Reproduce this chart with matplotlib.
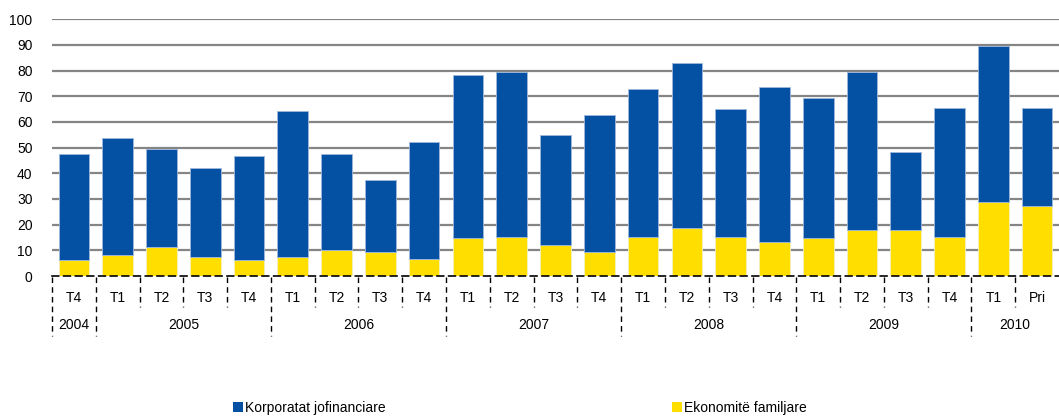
import matplotlib
matplotlib.use("Agg")
import matplotlib.pyplot as plt
import matplotlib.transforms as mtransforms
from matplotlib.patches import Patch

plt.rcParams['font.family'] = ['Liberation Sans', 'DejaVu Sans']

quarters = ["T4", "T1", "T2", "T3", "T4", "T1", "T2", "T3", "T4", "T1", "T2", "T3",
            "T4", "T1", "T2", "T3", "T4", "T1", "T2", "T3", "T4", "T1", "Pri"]
years = ["2004", "2005", "2006", "2007", "2008", "2009", "2010"]
year_counts = [1, 4, 4, 4, 4, 4, 2]
totals = [47.4, 53.6, 49.6, 42.2, 46.9, 64.2, 47.4, 37.4, 52.1, 78.2, 79.6, 54.8,
          62.9, 72.9, 82.9, 64.9, 73.5, 69.5, 79.6, 48.2, 65.5, 89.6, 65.5]
households = [6.1, 8.0, 11.4, 7.4, 6.1, 7.4, 10.1, 9.3, 6.8, 14.7, 15.3, 12.1,
              9.3, 15.3, 18.7, 15.3, 13.4, 14.7, 18.1, 18.1, 15.3, 28.8, 27.4]
corporates = [t - h for t, h in zip(totals, households)]

blue = "#0450A3"
yellow = "#FFDE00"

fig = plt.figure(figsize=(10.59, 4.18), dpi=100)
ax = fig.add_axes([52 / 1059, 1 - 276 / 418, (1059 - 52) / 1059, (276 - 19.3) / 418])

x = list(range(len(quarters)))
ax.bar(x, households, width=0.7, color=yellow, edgecolor="#f4f0c0", linewidth=0.6, zorder=3)
ax.bar(x, corporates, bottom=households, width=0.7, color=blue, edgecolor="#9fb8dc",
       linewidth=0.6, zorder=3)

ax.set_xlim(-0.5, len(quarters) - 0.5)
ax.set_ylim(0, 100)
ax.set_yticks(range(0, 101, 10))
ax.tick_params(axis='y', length=0, labelsize=10, pad=14)
ax.tick_params(axis='x', length=0, labelbottom=False)
for yv in range(10, 101, 10):
    ax.axhline(yv, color="#858585", linewidth=1.6, zorder=1)
for s in ["left", "right", "top"]:
    ax.spines[s].set_visible(False)
ax.spines["bottom"].set_linestyle((0, (4, 3)))
ax.spines["bottom"].set_linewidth(1.2)
ax.spines["bottom"].set_color("black")
ax.spines["bottom"].set_zorder(4)

trans = mtransforms.blended_transform_factory(ax.transData, ax.transAxes)
px = 1.0 / (276 - 19.3)

# quarter labels and separators
for i, q in enumerate(quarters):
    ax.text(i, -22 * px, q, transform=trans, ha="center", va="center", fontsize=10)
year_bounds = [-0.5]
acc = -0.5
for c in year_counts:
    acc += c
    year_bounds.append(acc)
for b in [i - 0.5 for i in range(len(quarters) + 1)]:
    if b in year_bounds and b < len(quarters) - 0.5:
        ax.plot([b, b], [-1 * px, -60 * px], transform=trans, color="black",
                linewidth=1.0, linestyle=(0, (4, 3)), clip_on=False)
    elif b < len(quarters) - 0.5:
        ax.plot([b, b], [-1 * px, -31 * px], transform=trans, color="black",
                linewidth=1.0, linestyle=(0, (4, 3)), clip_on=False)

# year labels
for k, yr in enumerate(years):
    center = (year_bounds[k] + year_bounds[k + 1]) / 2
    ax.text(center, -49 * px, yr, transform=trans, ha="center", va="center", fontsize=10)

handles = [Patch(facecolor=blue, edgecolor="none"), Patch(facecolor=yellow, edgecolor="none")]
fig.legend(handles[:1], ["Korporatat jofinanciare"], loc="center left",
           bbox_to_anchor=(226 / 1059, 1 - 408 / 418), frameon=False, fontsize=10,
           handlelength=0.7, handleheight=0.7, handletextpad=0.2, borderpad=0)
fig.legend(handles[1:], ["Ekonomitë familjare"], loc="center left",
           bbox_to_anchor=(665 / 1059, 1 - 408 / 418), frameon=False, fontsize=10,
           handlelength=0.7, handleheight=0.7, handletextpad=0.2, borderpad=0)

fig.savefig("out.png", dpi=100)
